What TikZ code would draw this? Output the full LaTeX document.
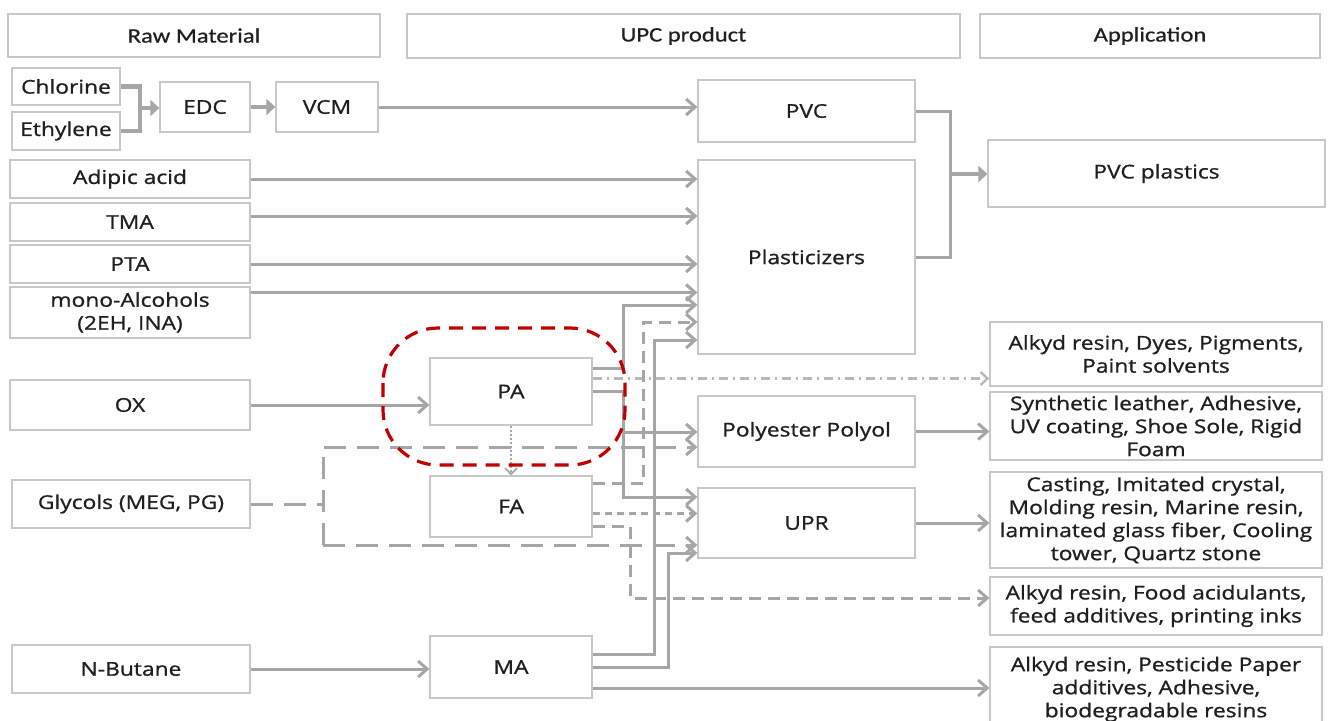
\documentclass[tikz,border=0pt]{standalone}
\usepackage{fontspec}
\setmainfont{Open Sans}[FakeStretch=1.2, UprightFeatures={FakeBold=0.9}]
\newfontfamily\headfont{Carlito}[FakeStretch=1.2, UprightFeatures={FakeBold=0.7}]
\usetikzlibrary{arrows.meta}
\definecolor{wiregray}{HTML}{A6A6A6}
\definecolor{framegray}{HTML}{C8C8C8}
\definecolor{ringred}{HTML}{C00000}

\tikzset{
  box/.style={draw=framegray, line width=1.3pt, fill=white, align=center,
    inner sep=0pt, text=black!88, font=\fontsize{19}{23}\selectfont},
  head/.style={box, font=\headfont\fontsize{20.5}{24}\selectfont},
  wire/.style={draw=wiregray, line width=3pt},
  fatwire/.style={draw=wiregray, line width=4.4pt},
  tip/.style={-{Straight Barb[length=9pt,width=16pt]}},
  fattip/.style={-{Triangle[length=9pt,width=16pt]}},
  longdash/.style={dash pattern=on 22pt off 11pt},
  middash/.style={dash pattern=on 12pt off 7pt},
  shortdash/.style={dash pattern=on 7pt off 5pt},
  dashdot/.style={draw=wiregray!80, line width=2.4pt, dash pattern=on 9pt off 5pt on 2pt off 5pt},
}

\begin{document}
\begin{tikzpicture}[x=1pt,y=-1pt]
\useasboundingbox (0,0) rectangle (1330,720);

% column heads
\node [head, minimum width=372, minimum height=43] (rawhead) at (194,35.5) {Raw Material};
\node [head, minimum width=553, minimum height=44] (upchead) at (683.5,36) {UPC product};
\node [head, minimum width=340, minimum height=44] (apphead) at (1150,36) {Application};

% raw materials
\node [box, minimum width=108, minimum height=37] (chlorine) at (66,86.5) {Chlorine};
\node [box, minimum width=108, minimum height=38] (ethylene) at (66,131) {Ethylene};
\node [box, minimum width=90, minimum height=50] (edc) at (205,107) {EDC};
\node [box, minimum width=102, minimum height=50] (vcm) at (327,107) {VCM};
\node [box, minimum width=240, minimum height=38] (adipic) at (130,179) {Adipic acid};
\node [box, minimum width=240, minimum height=38] (tma) at (130,222) {TMA};
\node [box, minimum width=240, minimum height=38] (pta) at (130,264) {PTA};
\node [box, minimum width=240, minimum height=51] (mono) at (130,312.5) {mono-Alcohols\\(2EH, INA)};
\node [box, minimum width=240, minimum height=50] (ox) at (130,405) {OX};
\node [box, minimum width=238, minimum height=48] (glycol) at (131,504) {Glycols (MEG, PG)};
\node [box, minimum width=238, minimum height=48] (butane) at (131,669) {N-Butane};

% intermediates
\node [box, minimum width=162, minimum height=67] (pa) at (511,391.5) {PA};
\node [box, minimum width=162, minimum height=61] (fa) at (511,506.5) {FA};
\node [box, minimum width=162, minimum height=62] (ma) at (511,667) {MA};

% products
\node [box, minimum width=217, minimum height=62] (pvc) at (806.5,111) {PVC};
\node [box, minimum width=217, minimum height=194] (plast) at (806.5,257) {Plasticizers};
\node [box, minimum width=217, minimum height=71] (poly) at (806.5,431.5) {Polyester Polyol};
\node [box, minimum width=217, minimum height=70] (upr) at (806.5,523) {UPR};

% applications
\node [box, minimum width=337, minimum height=67] (pvcplastics) at (1156.5,173.5) {PVC plastics};
\node [box, minimum width=332, minimum height=64] (dyes) at (1156,354) {Alkyd resin, Dyes, Pigments,\\Paint solvents};
\node [box, minimum width=332, minimum height=68] (leather) at (1156,426) {Synthetic leather, Adhesive,\\UV coating, Shoe Sole, Rigid\\Foam};
\node [box, minimum width=332, minimum height=96] (casting) at (1156,520) {Casting, Imitated crystal,\\Molding resin, Marine resin,\\laminated glass fiber, Cooling\\tower, Quartz stone};
\node [box, minimum width=332, minimum height=58] (food) at (1156,606) {Alkyd resin, Food acidulants,\\feed additives, printing inks};
\node [box, minimum width=332, minimum height=80, text depth=0pt] (pesticide) at (1156,687) {Alkyd resin, Pesticide Paper\\additives, Adhesive,\\biodegradable resins};

% PVC chain
\coordinate (cljoin) at (140,108);
\draw [fatwire] (chlorine.east) -| (cljoin);
\draw [fatwire] (ethylene.east) -| (cljoin);
\draw [fatwire, fattip] (cljoin) -- (cljoin -| edc.west);
\draw [fatwire, fattip] (edc.east) -- (vcm.west);
\draw [wire, tip] (vcm.east) -- (vcm.east -| pvc.west);

% feeds into plasticizers
\draw [wire, tip] (adipic.east) -- (adipic.east -| plast.west);
\draw [wire, tip] ([yshift=6pt]tma.east) -- ([yshift=6pt]tma.east -| plast.west);
\draw [wire, tip] (pta.east) -- (pta.east -| plast.west);
\draw [wire, tip] ([yshift=20pt]mono.east) -- ([yshift=20pt]mono.east -| plast.west);

% PVC + plasticizers -> PVC plastics
\coordinate (pvcjoin) at (950,174);
\draw [wire] (pvc.east) -| (pvcjoin);
\draw [wire] (plast.east) -| (pvcjoin);
\draw [fatwire, fattip] (pvcjoin) -- (pvcjoin -| pvcplastics.west);

% OX and butane
\draw [wire, tip] (ox.east) -- (ox.east -| pa.west);
\draw [wire, tip] (butane.east) -- (butane.east -| ma.west);

% PA
\coordinate (paup) at (623,305);
\coordinate (papoly) at (623,432);
\coordinate (paupr) at (623,497);
\draw [wire, tip] ([yshift=23pt]pa.east) -| (paup) -- (paup -| plast.west);
\draw [dashdot, -{Straight Barb[length=7pt,width=13pt]}] ([yshift=13pt]pa.east) -- ([yshift=13pt]pa.east -| dyes.west);
\draw [wire, tip] (pa.east) -| (paupr) -- (paupr -| upr.west);
\draw [wire, tip] (papoly) -- (papoly -| poly.west);
\draw [draw=wiregray, line width=1.8pt, dash pattern=on 2pt off 2pt, -{Straight Barb[length=6pt,width=12pt]}] (pa.south) -- (fa.north);

% glycols
\coordinate (glytop) at (323,447);
\coordinate (glybot) at (323,545);
\draw [wire, longdash] (glycol.east) -- (glycol.east -| glytop);
\draw [wire, longdash, tip] (glybot) -- (glytop) -- (glytop -| poly.west);
\draw [wire, longdash, tip] (glybot) -- (glybot -| upr.west);

% FA
\coordinate (faup) at (643,322);
\coordinate (fadown) at (630,598);
\draw [wire, middash, tip] ([yshift=23pt]fa.east) -| (faup) -- (faup -| plast.west);
\draw [wire, shortdash, tip] ([yshift=-7pt]fa.east) -- ([yshift=-7pt]fa.east -| upr.west);
\draw [wire, middash, tip] ([yshift=-20pt]fa.east) -| (fadown) -- (fadown -| food.west);

% MA
\coordinate (maup) at (654,340);
\coordinate (maupr) at (668,553);
\draw [wire, tip] ([yshift=13pt]ma.east) -| (maup) -- (maup -| plast.west);
\draw [wire, tip] (ma.east) -| (maupr) -- (maupr -| upr.west);
\draw [wire, tip] ([yshift=-21pt]ma.east) -- ([yshift=-21pt]ma.east -| pesticide.west);

% products out
\draw [wire, tip] (poly.east) -- (poly.east -| leather.west);
\draw [wire, tip] (upr.east) -- (upr.east -| casting.west);

% highlight round PA
\draw [ringred, line width=3.2pt, dash pattern=on 14pt off 9pt, rounded corners=55pt] (383,328) rectangle (625,465);
\end{tikzpicture}
\end{document}
